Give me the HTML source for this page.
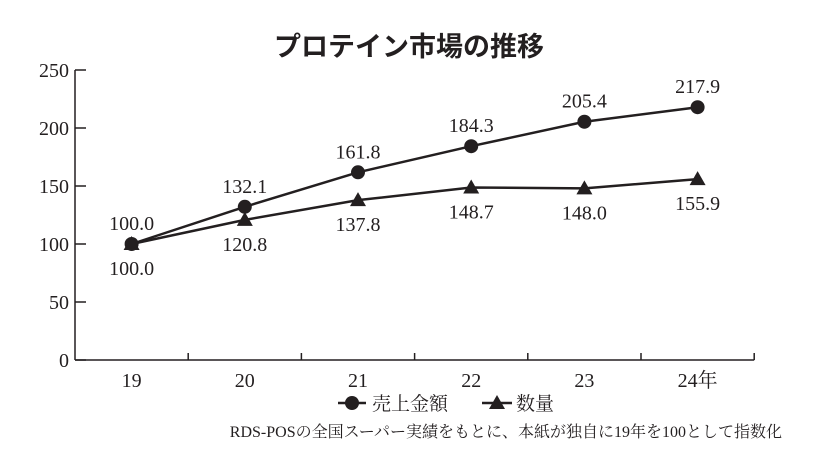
<!DOCTYPE html>
<html><head><meta charset="utf-8"><style>
body{margin:0;background:#fff}
svg text{font-family:"Liberation Serif","Noto Serif CJK SC",serif;fill:#231f20}
</style></head><body>
<svg width="820" height="470" viewBox="0 0 820 470">
<text x="409" y="56" text-anchor="middle" font-size="27" font-weight="bold" style="font-family:'Liberation Sans','Noto Sans CJK JP',sans-serif">プロテイン市場の推移</text>
<g id="axes"></g><g id="series"></g>
<g>
<line x1="338" y1="403" x2="366" y2="403" stroke="#231f20" stroke-width="2.5"/>
<circle cx="352" cy="403" r="7" fill="#231f20"/>
<text x="372" y="410" font-size="19">売上金額</text>
<line x1="482" y1="403" x2="512" y2="403" stroke="#231f20" stroke-width="2.5"/>
<polygon points="497,395 505,409 489,409" fill="#231f20"/>
<text x="516" y="410" font-size="19">数量</text>
</g>
<text x="782" y="437" text-anchor="end" font-size="16">RDS-POSの全国スーパー実績をもとに、本紙が独自に19年を100として指数化</text>
</svg>
<script>
const categories=["19","20","21","22","23","24年"];
const yTicks=[0,50,100,150,200,250];
const sales=[100.0,132.1,161.8,184.3,205.4,217.9];
const volume=[100.0,120.8,137.8,148.7,148.0,155.9];
const NS="http://www.w3.org/2000/svg";
const x0=75,bw=113.2,yb=360,yt=70,ymax=250;
const xs=i=>x0+bw*(i+0.5), ys=v=>yb-(yb-yt)*v/ymax;
const ax=document.getElementById('axes'),se=document.getElementById('series');
function mk(p,t,a){const e=document.createElementNS(NS,t);for(const k in a)e.setAttribute(k,a[k]);p.appendChild(e);return e;}
let l=mk(ax,'line',{x1:x0,y1:yt,x2:x0,y2:yb,stroke:'#231f20','stroke-width':1.5});


l=mk(ax,'line',{x1:x0,y1:yb,x2:x0+bw*6,y2:yb,stroke:'#231f20','stroke-width':1.5});


yTicks.forEach(v=>{mk(ax,'line',{x1:x0,y1:ys(v),x2:x0+11,y2:ys(v),stroke:'#231f20','stroke-width':1.5});
const t=mk(ax,'text',{x:x0-6,y:ys(v)+7,'text-anchor':'end','font-size':20});t.textContent=v;

});
for(let i=1;i<=6;i++)mk(ax,'line',{x1:x0+bw*i,y1:yb,x2:x0+bw*i,y2:yb-7,stroke:'#231f20','stroke-width':1.5});
categories.forEach((c,i)=>{const t=mk(ax,'text',{x:xs(i),y:yb+27,'text-anchor':'middle','font-size':20});t.textContent=c;

});
function series(arr,name,shape,above){
const p=mk(se,'polyline',{points:arr.map((v,i)=>xs(i)+','+ys(v)).join(' '),fill:'none',stroke:'#231f20','stroke-width':2.5});


arr.forEach((v,i)=>{const x=xs(i),y=ys(v);let m;
if(shape==='c')m=mk(se,'circle',{cx:x,cy:y,r:7,fill:'#231f20'});
else m=mk(se,'polygon',{points:`${x},${y-8} ${x+8},${y+6} ${x-8},${y+6}`,fill:'#231f20'});


const t=mk(se,'text',{x:x,y:above?y-14:y+31,'text-anchor':'middle','font-size':20});t.textContent=v.toFixed(1);

});}
series(volume,'volume','t',false);
series(sales,'sales','c',true);
</script>
</body></html>
